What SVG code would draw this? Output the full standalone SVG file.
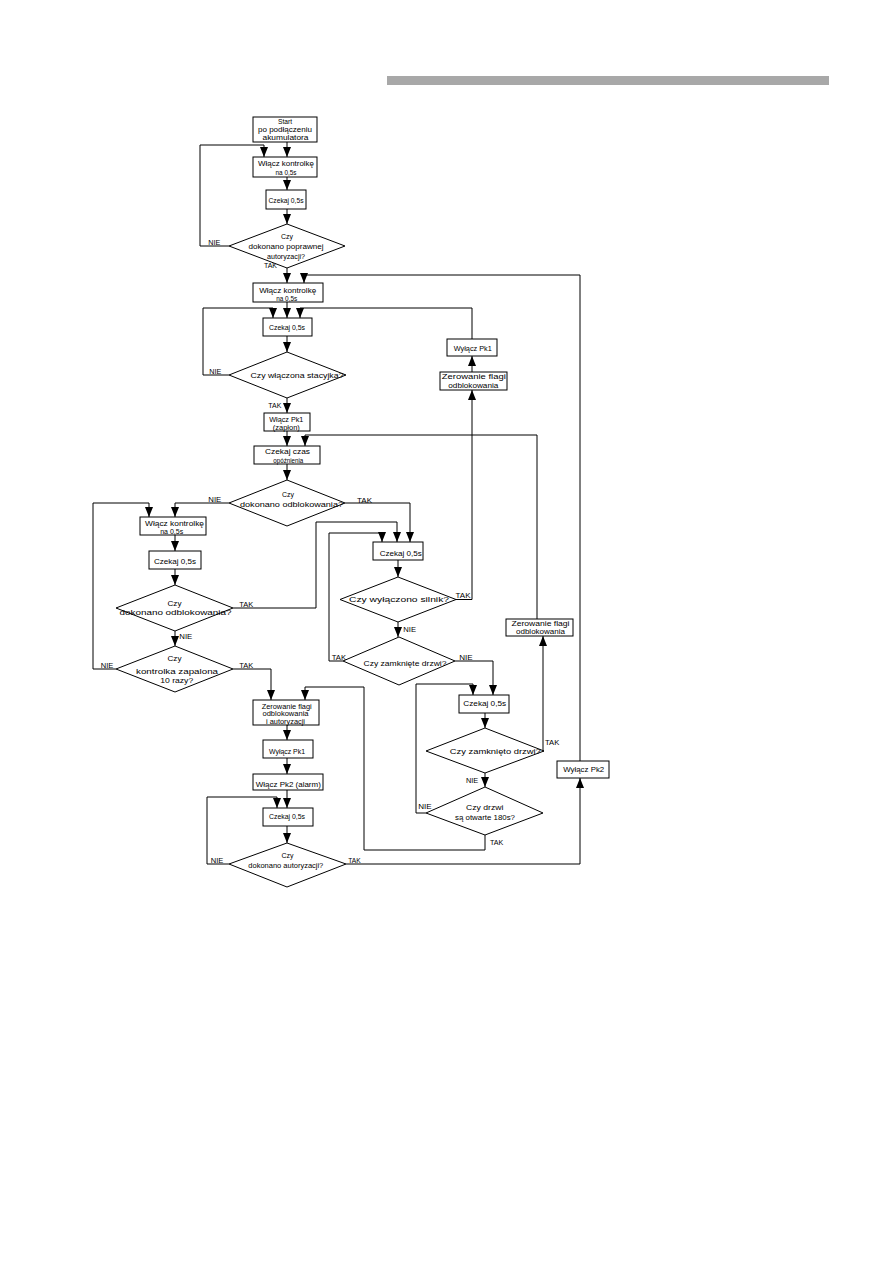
<svg xmlns="http://www.w3.org/2000/svg" width="893" height="1263" viewBox="0 0 893 1263">
<style>
.b{fill:#fff;stroke:#000;stroke-width:1}
.c{fill:none;stroke:#000;stroke-width:1}
.a{marker-end:url(#ah)}
text{font-family:"Liberation Sans",Arial,sans-serif;font-size:8px;fill:#000}
.t{text-anchor:middle}
</style>
<defs>
<marker id="ah" markerUnits="userSpaceOnUse" viewBox="0 0 10 8" markerWidth="10" markerHeight="8" refX="10" refY="4" orient="auto"><path d="M0,0 L10,4 L0,8 z" fill="#000"/></marker>
</defs>
<rect width="893" height="1263" fill="#fff"/>
<rect x="387" y="76" width="442" height="9" fill="#a8a8a8"/>

<g id="connectors">
<path class="c a" d="M287,142 V157"/>
<path class="c a" d="M229,246 H200 V145 H264 V157"/>
<path class="c a" d="M287,177 V190"/>
<path class="c a" d="M287,209 V224"/>
<path class="c a" d="M287,268 V283"/>
<path class="c a" d="M580,761 V275 H304 V283"/>
<path class="c a" d="M287,302 V318"/>
<path class="c a" d="M229,375 H203 V308 H273 V318"/>
<path class="c a" d="M472,339 V308 H300 V318"/>
<path class="c a" d="M287,336 V352"/>
<path class="c a" d="M287,398 V413"/>
<path class="c a" d="M287,431 V446"/>
<path class="c a" d="M537,619 V435 H305 V446"/>
<path class="c a" d="M287,464 V480"/>
<path class="c a" d="M229,503 H175 V517"/>
<path class="c a" d="M116,669 H93 V503 H149 V517"/>
<path class="c a" d="M345,503 H410 V542"/>
<path class="c a" d="M175,535 V551"/>
<path class="c a" d="M175,569 V585"/>
<path class="c a" d="M233,608 H316 V522 H397 V542"/>
<path class="c a" d="M175,631 V646"/>
<path class="c a" d="M233,669 H271 V700"/>
<path class="c a" d="M343,661 H329 V533 H382 V542"/>
<path class="c a" d="M398,560 V577"/>
<path class="c a" d="M456,599.5 H472 V390"/>
<path class="c a" d="M472,372 V356"/>
<path class="c a" d="M398,622 V637"/>
<path class="c a" d="M455,661 H493 V695"/>
<path class="c a" d="M426,813 H416 V684 H473 V695"/>
<path class="c a" d="M485,713 V728"/>
<path class="c a" d="M544,751 H543 V636"/>
<path class="c a" d="M485,773 V787"/>
<path class="c a" d="M485,835 V850 H364 V687 H305 V700"/>
<path class="c a" d="M287,725 V740"/>
<path class="c a" d="M287,758 V774"/>
<path class="c a" d="M287,790 V808"/>
<path class="c a" d="M229,864 H207 V797 H277 V808"/>
<path class="c a" d="M287,826 V843"/>
<path class="c a" d="M346,864 H580 V778"/>
</g>

<g id="labels">
<text x="208.3" y="245.2" textLength="12" lengthAdjust="spacingAndGlyphs">NIE</text>
<text x="264" y="267.7" textLength="13" lengthAdjust="spacingAndGlyphs">TAK</text>
<text x="209.3" y="373.7" textLength="12" lengthAdjust="spacingAndGlyphs">NIE</text>
<text x="268.3" y="407.7" textLength="13" lengthAdjust="spacingAndGlyphs">TAK</text>
<text x="208.3" y="502" textLength="13" lengthAdjust="spacingAndGlyphs">NIE</text>
<text x="357" y="502.7" textLength="15" lengthAdjust="spacingAndGlyphs">TAK</text>
<text x="239.3" y="606.7" textLength="14" lengthAdjust="spacingAndGlyphs">TAK</text>
<text x="179.3" y="639.4" textLength="13" lengthAdjust="spacingAndGlyphs">NIE</text>
<text x="100.7" y="667.7" textLength="12.6" lengthAdjust="spacingAndGlyphs">NIE</text>
<text x="239.3" y="667.7" textLength="14" lengthAdjust="spacingAndGlyphs">TAK</text>
<text x="455.5" y="597.7" textLength="15" lengthAdjust="spacingAndGlyphs">TAK</text>
<text x="403.3" y="631.7" textLength="12.7" lengthAdjust="spacingAndGlyphs">NIE</text>
<text x="331.7" y="660.4" textLength="14.3" lengthAdjust="spacingAndGlyphs">TAK</text>
<text x="459.3" y="660.4" textLength="13.4" lengthAdjust="spacingAndGlyphs">NIE</text>
<text x="545" y="745.4" textLength="14.3" lengthAdjust="spacingAndGlyphs">TAK</text>
<text x="466" y="782.7" textLength="12.3" lengthAdjust="spacingAndGlyphs">NIE</text>
<text x="418.3" y="808.7" textLength="13.4" lengthAdjust="spacingAndGlyphs">NIE</text>
<text x="490" y="845.4" textLength="13.3" lengthAdjust="spacingAndGlyphs">TAK</text>
<text x="210.7" y="863.4" textLength="12.6" lengthAdjust="spacingAndGlyphs">NIE</text>
<text x="348.3" y="863.4" textLength="12.4" lengthAdjust="spacingAndGlyphs">TAK</text>
</g>

<g id="n-start">
<rect class="b" x="253" y="117" width="64" height="25"/>
<text class="t" x="285" y="124.2" textLength="14" lengthAdjust="spacingAndGlyphs">Start</text>
<text class="t" x="285" y="132" textLength="54" lengthAdjust="spacingAndGlyphs">po podłączeniu</text>
<text class="t" x="285.5" y="139.8" textLength="46" lengthAdjust="spacingAndGlyphs">akumulatora</text>
</g>
<g id="n-wlacz1">
<rect class="b" x="253" y="157" width="64" height="20"/>
<text class="t" x="286" y="165.6" textLength="56" lengthAdjust="spacingAndGlyphs">Włącz kontrolkę</text>
<text class="t" x="286" y="175.4" textLength="21" lengthAdjust="spacingAndGlyphs">na 0,5s</text>
</g>
<g id="n-czekaj1">
<rect class="b" x="266" y="190" width="40" height="19"/>
<text class="t" x="286" y="202.7" textLength="35" lengthAdjust="spacingAndGlyphs">Czekaj 0,5s</text>
</g>
<g id="d-autoryzacja1">
<polygon class="b" points="287,224 345,246 287,268 229,246"/>
<text class="t" x="287" y="238.9" textLength="12" lengthAdjust="spacingAndGlyphs">Czy</text>
<text class="t" x="286" y="248.9" textLength="75" lengthAdjust="spacingAndGlyphs">dokonano poprawnej</text>
<text class="t" x="286" y="258.9" textLength="38" lengthAdjust="spacingAndGlyphs">autoryzacji?</text>
</g>
<g id="n-wlacz2">
<rect class="b" x="253" y="283" width="70" height="19"/>
<text class="t" x="287.7" y="292.9" textLength="57" lengthAdjust="spacingAndGlyphs">Włącz kontrolkę</text>
<text class="t" x="286.7" y="301" textLength="21" lengthAdjust="spacingAndGlyphs">na 0,5s</text>
</g>
<g id="n-czekaj2">
<rect class="b" x="263" y="318" width="49" height="18"/>
<text class="t" x="287" y="329.6" textLength="36" lengthAdjust="spacingAndGlyphs">Czekaj 0,5s</text>
</g>
<g id="d-stacyjka">
<polygon class="b" points="287,352 346,375 287,398 229,375"/>
<text class="t" x="297" y="377.9" textLength="93" lengthAdjust="spacingAndGlyphs">Czy włączona stacyjka?</text>
</g>
<g id="n-wlaczpk1">
<rect class="b" x="264" y="413" width="46" height="18"/>
<text class="t" x="286.3" y="421.9" textLength="34" lengthAdjust="spacingAndGlyphs">Włącz Pk1</text>
<text class="t" x="286.3" y="430.2" textLength="27" lengthAdjust="spacingAndGlyphs">(zapłon)</text>
</g>
<g id="n-wylaczpk1a">
<rect class="b" x="447" y="339" width="50" height="17"/>
<text class="t" x="472.8" y="350.6" textLength="38" lengthAdjust="spacingAndGlyphs">Wyłącz Pk1</text>
</g>
<g id="n-zerowanie1">
<rect class="b" x="440" y="372" width="67" height="18"/>
<text class="t" x="473.8" y="379.1" textLength="64" lengthAdjust="spacingAndGlyphs">Zerowanie flagi</text>
<text class="t" x="473.3" y="388.4" textLength="50" lengthAdjust="spacingAndGlyphs">odblokowania</text>
</g>
<g id="n-czekajczas">
<rect class="b" x="254" y="446" width="66" height="18"/>
<text class="t" x="287.5" y="453.6" textLength="45" lengthAdjust="spacingAndGlyphs">Czekaj czas</text>
<text class="t" x="288.3" y="462.6" textLength="30" lengthAdjust="spacingAndGlyphs">opóźnienia</text>
</g>
<g id="d-odblok1">
<polygon class="b" points="287,480 345,503 287,526 229,503"/>
<text class="t" x="288" y="496.9" textLength="12" lengthAdjust="spacingAndGlyphs">Czy</text>
<text class="t" x="291.5" y="506.9" textLength="103" lengthAdjust="spacingAndGlyphs">dokonano odblokowania?</text>
</g>
<g id="n-wlacz3">
<rect class="b" x="140" y="517" width="66" height="18"/>
<text class="t" x="174.5" y="525.6" textLength="59" lengthAdjust="spacingAndGlyphs">Włącz kontrolkę</text>
<text class="t" x="171.7" y="534.3" textLength="23" lengthAdjust="spacingAndGlyphs">na 0,5s</text>
</g>
<g id="n-czekaj3">
<rect class="b" x="149" y="551" width="52" height="18"/>
<text class="t" x="175" y="563.6" textLength="42" lengthAdjust="spacingAndGlyphs">Czekaj 0,5s</text>
</g>
<g id="d-odblok2">
<polygon class="b" points="175,585 233,608 175,631 116,608"/>
<text class="t" x="174.5" y="605.7" textLength="14" lengthAdjust="spacingAndGlyphs">Czy</text>
<text class="t" x="175.5" y="614.6" textLength="112" lengthAdjust="spacingAndGlyphs">dokonano odblokowania?</text>
</g>
<g id="d-kontrolka">
<polygon class="b" points="175,646 233,669 175,692 116,669"/>
<text class="t" x="174.5" y="661.2" textLength="14" lengthAdjust="spacingAndGlyphs">Czy</text>
<text class="t" x="177" y="673.6" textLength="82" lengthAdjust="spacingAndGlyphs">kontrolka zapalona</text>
<text class="t" x="176.7" y="682.9" textLength="33" lengthAdjust="spacingAndGlyphs">10 razy?</text>
</g>
<g id="n-czekaj4">
<rect class="b" x="373" y="542" width="50" height="18"/>
<text class="t" x="400.8" y="555.6" textLength="42" lengthAdjust="spacingAndGlyphs">Czekaj 0,5s</text>
</g>
<g id="d-silnik">
<polygon class="b" points="398,577 456,599.5 398,622 340,599.5"/>
<text class="t" x="399" y="602.2" textLength="100" lengthAdjust="spacingAndGlyphs">Czy wyłączono silnik?</text>
</g>
<g id="d-zamkniete">
<polygon class="b" points="399,637 455,661 399,685 343,661"/>
<text class="t" x="405" y="665.6" textLength="83" lengthAdjust="spacingAndGlyphs">Czy zamknięte drzwi?</text>
</g>
<g id="n-zerowanie3">
<rect class="b" x="506" y="619" width="67" height="17"/>
<text class="t" x="540.5" y="626.2" textLength="58" lengthAdjust="spacingAndGlyphs">Zerowanie flagi</text>
<text class="t" x="540.5" y="634.4" textLength="49" lengthAdjust="spacingAndGlyphs">odblokowania</text>
</g>
<g id="n-czekaj5">
<rect class="b" x="459" y="695" width="50" height="18"/>
<text class="t" x="484.7" y="706.2" textLength="42.7" lengthAdjust="spacingAndGlyphs">Czekaj 0,5s</text>
</g>
<g id="d-zamknieto">
<polygon class="b" points="485,728 544,751 485,773 426,751"/>
<text class="t" x="495.3" y="753.6" textLength="91" lengthAdjust="spacingAndGlyphs">Czy zamknięto drzwi?</text>
</g>
<g id="d-otwarte">
<polygon class="b" points="485,787 543,813 485,835 426,813"/>
<text class="t" x="484.7" y="810.2" textLength="37.3" lengthAdjust="spacingAndGlyphs">Czy drzwi</text>
<text class="t" x="485" y="819.6" textLength="60" lengthAdjust="spacingAndGlyphs">są otwarte 180s?</text>
</g>
<g id="n-zerowanie2">
<rect class="b" x="253" y="700" width="66" height="25"/>
<text class="t" x="286.7" y="708.7" textLength="50" lengthAdjust="spacingAndGlyphs">Zerowanie flagi</text>
<text class="t" x="285.5" y="716.1" textLength="46" lengthAdjust="spacingAndGlyphs">odblokowania</text>
<text class="t" x="285.5" y="723.5" textLength="39" lengthAdjust="spacingAndGlyphs">i autoryzacji</text>
</g>
<g id="n-wylaczpk1b">
<rect class="b" x="263" y="740" width="50" height="18"/>
<text class="t" x="287" y="753.6" textLength="36" lengthAdjust="spacingAndGlyphs">Wyłącz Pk1</text>
</g>
<g id="n-wlaczpk2">
<rect class="b" x="253" y="774" width="70" height="16"/>
<text class="t" x="288.3" y="786.6" textLength="65" lengthAdjust="spacingAndGlyphs">Włącz Pk2 (alarm)</text>
</g>
<g id="n-czekaj6">
<rect class="b" x="263" y="808" width="50" height="18"/>
<text class="t" x="287" y="818.9" textLength="36" lengthAdjust="spacingAndGlyphs">Czekaj 0,5s</text>
</g>
<g id="d-autoryzacja2">
<polygon class="b" points="287,843 346,864 287,887 229,864"/>
<text class="t" x="287.5" y="857.9" textLength="12" lengthAdjust="spacingAndGlyphs">Czy</text>
<text class="t" x="285.8" y="867.9" textLength="75" lengthAdjust="spacingAndGlyphs">dokonano autoryzacji?</text>
</g>
<g id="n-wylaczpk2">
<rect class="b" x="557" y="761" width="52" height="17"/>
<text class="t" x="583.7" y="772.2" textLength="41" lengthAdjust="spacingAndGlyphs">Wyłącz Pk2</text>
</g>
</svg>
